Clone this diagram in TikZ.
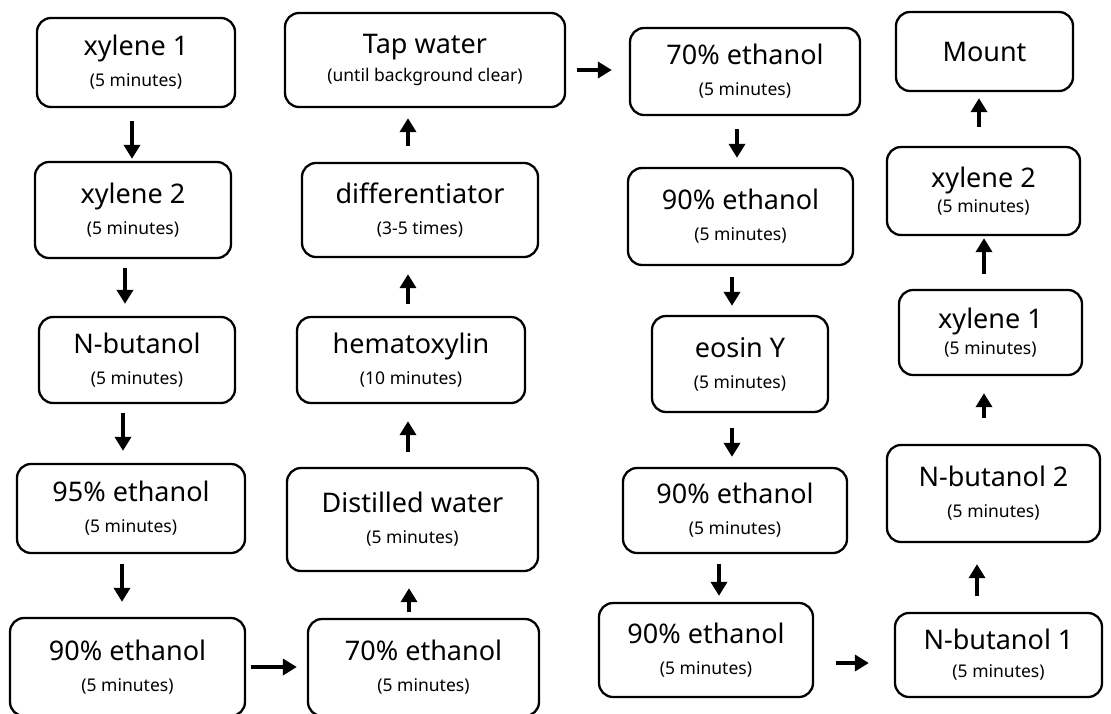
\documentclass[tikz,border=0pt]{standalone}
\usepackage{fontspec}
\setmainfont{Noto Sans}
\usetikzlibrary{arrows.meta}
\newcommand{\mainsize}{\fontsize{27}{31}\selectfont}
\newcommand{\sublabel}[1]{{\fontsize{17.5}{20}\selectfont #1}}
\tikzset{
  stage/.style={draw, line width=2.3pt, rounded corners=14pt, align=center, inner sep=0pt, font=\mainsize},
  flow/.style={line width=3.6pt, -{Triangle[length=14pt,width=16pt]}}
}

\begin{document}
\begin{tikzpicture}[x=1pt, y=-1pt]
    \useasboundingbox (0,0) rectangle (1111,713);
    % First column (top to bottom)
    \node[stage, minimum width=198pt, minimum height=89pt] (a1) at (136,62.5) {xylene 1\\\sublabel{(5 minutes)}};
    \node[stage, minimum width=196pt, minimum height=96pt] (a2) at (133,210) {xylene 2\\\sublabel{(5 minutes)}};
    \node[stage, minimum width=196pt, minimum height=86pt] (a3) at (137,360) {N-butanol\\\sublabel{(5 minutes)}};
    \node[stage, minimum width=228pt, minimum height=89pt] (a4) at (131,508.5) {95\% ethanol\\\sublabel{(5 minutes)}};
    \node[stage, minimum width=235pt, minimum height=98pt] (a5) at (127.5,667) {90\% ethanol\\\sublabel{(5 minutes)}};
    % Second column (bottom to top)
    \node[stage, minimum width=231pt, minimum height=97pt] (b1) at (423.5,667.5) {70\% ethanol\\\sublabel{(5 minutes)}};
    \node[stage, minimum width=251pt, minimum height=103pt] (b2) at (412.5,519.5) {Distilled water\\\sublabel{(5 minutes)}};
    \node[stage, minimum width=228pt, minimum height=86pt] (b3) at (411,360) {hematoxylin\\\sublabel{(10 minutes)}};
    \node[stage, minimum width=236pt, minimum height=94pt] (b4) at (420,210) {differentiator\\\sublabel{(3-5 times)}};
    \node[stage, minimum width=280pt, minimum height=94pt] (b5) at (425,60) {Tap water\\[-3pt]\sublabel{(until background clear)}};
    % Third column (top to bottom)
    \node[stage, minimum width=230pt, minimum height=87pt] (c1) at (745,71.5) {70\% ethanol\\\sublabel{(5 minutes)}};
    \node[stage, minimum width=225pt, minimum height=97pt] (c2) at (740.5,216.5) {90\% ethanol\\\sublabel{(5 minutes)}};
    \node[stage, minimum width=176pt, minimum height=96pt] (c3) at (740,364) {eosin Y\\\sublabel{(5 minutes)}};
    \node[stage, minimum width=224pt, minimum height=85pt] (c4) at (735,510.5) {90\% ethanol\\\sublabel{(5 minutes)}};
    \node[stage, minimum width=214pt, minimum height=94pt] (c5) at (706,650) {90\% ethanol\\\sublabel{(5 minutes)}};
    % Fourth column (bottom to top)
    \node[stage, minimum width=207pt, minimum height=84pt] (d1) at (998.5,655) {N-butanol 1\\[-3pt]\sublabel{(5 minutes)}};
    \node[stage, minimum width=213pt, minimum height=97pt] (d2) at (993.5,493.5) {N-butanol 2\\\sublabel{(5 minutes)}};
    \node[stage, minimum width=183pt, minimum height=85pt] (d3) at (990.5,332.5) {xylene 1\\[-5pt]\sublabel{(5 minutes)}};
    \node[stage, minimum width=193pt, minimum height=88pt] (d4) at (983.5,191) {xylene 2\\[-6pt]\sublabel{(5 minutes)}};
    \node[stage, minimum width=177pt, minimum height=79pt] (d5) at (984.5,51.5) {Mount};
    % Arrows, first column
    \draw[flow, shorten <=13pt, shorten >=2pt] ([xshift=-4pt]a1.south) -- ([xshift=-4pt]a1.south |- a2.north);
    \draw[flow, shorten <=9pt, shorten >=12pt] ([xshift=-8pt]a2.south) -- ([xshift=-8pt]a2.south |- a3.north);
    \draw[flow, shorten <=9pt, shorten >=12pt] ([xshift=-14pt]a3.south) -- ([xshift=-14pt]a3.south |- a4.north);
    \draw[flow, shorten <=10pt, shorten >=15pt] ([xshift=-9pt]a4.south) -- ([xshift=-9pt]a4.south |- a5.north);
    \draw[flow, shorten <=5pt, shorten >=10pt] (a5.east) -- (a5.east -| b1.west);
    % Arrows, second column
    \draw[flow, shorten <=6pt, shorten >=16pt] ([xshift=-14.5pt]b1.north) -- ([xshift=-14.5pt]b1.north |- b2.south);
    \draw[flow, shorten <=15pt, shorten >=17pt] ([xshift=-4.5pt]b2.north) -- ([xshift=-4.5pt]b2.north |- b3.south);
    \draw[flow, shorten <=12pt, shorten >=16pt] ([xshift=-3pt]b3.north) -- ([xshift=-3pt]b3.north |- b4.south);
    \draw[flow, shorten <=16pt, shorten >=10pt] ([xshift=-12pt]b4.north) -- ([xshift=-12pt]b4.north |- b5.south);
    \draw[flow, shorten <=11pt, shorten >=17pt] ([yshift=-10pt]b5.east) -- ([yshift=-10pt]b5.east -| c1.west);
    % Arrows, third column
    \draw[flow, shorten <=13pt, shorten >=9pt] ([xshift=-8pt]c1.south) -- ([xshift=-8pt]c1.south |- c2.north);
    \draw[flow, shorten <=11pt, shorten >=9pt] ([xshift=-8.5pt]c2.south) -- ([xshift=-8.5pt]c2.south |- c3.north);
    \draw[flow, shorten <=15pt, shorten >=10pt] ([xshift=-8pt]c3.south) -- ([xshift=-8pt]c3.south |- c4.north);
    \draw[flow, shorten <=10pt, shorten >=6pt] ([xshift=-16pt]c4.south) -- ([xshift=-16pt]c4.south |- c5.north);
    \draw[flow, shorten <=22pt, shorten >=25pt] ([yshift=-13pt]c5.east) -- ([yshift=-13pt]c5.east -| d1.west);
    % Arrows, fourth column
    \draw[flow, shorten <=16pt, shorten >=21pt] ([xshift=-21.5pt]d1.north) -- ([xshift=-21.5pt]d1.north |- d2.south);
    \draw[flow, shorten <=26pt, shorten >=17pt] ([xshift=-9.5pt]d2.north) -- ([xshift=-9.5pt]d2.north |- d3.south);
    \draw[flow, shorten <=15pt, shorten >=2pt] ([xshift=-6.5pt]d3.north) -- ([xshift=-6.5pt]d3.north |- d4.south);
    \draw[flow, shorten <=19pt, shorten >=6pt] ([xshift=-4.5pt]d4.north) -- ([xshift=-4.5pt]d4.north |- d5.south);
\end{tikzpicture}
\end{document}
